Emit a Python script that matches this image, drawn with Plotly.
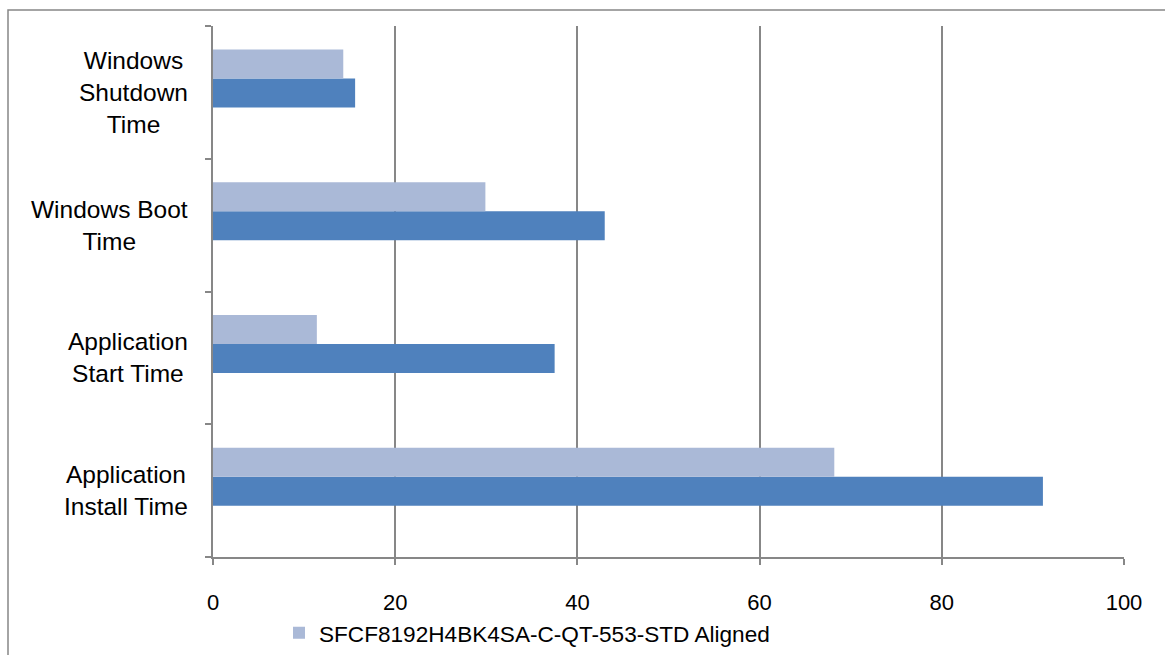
import plotly.graph_objects as go

categories = ["Application Install Time", "Application Start Time", "Windows Boot Time", "Windows Shutdown Time"]
tick_labels = ["Application<br>Install Time", "Application<br>Start Time", "Windows Boot<br>Time", "Windows<br>Shutdown<br>Time"]
series_dark_name = "Baseline"
series_dark = [91.1, 37.5, 43.0, 15.6]
series_light_name = "SFCF8192H4BK4SA-C-QT-553-STD Aligned"
series_light = [68.2, 11.4, 29.9, 14.3]
x_ticks = [0, 20, 40, 60, 80, 100]

W, H = 1165, 655
L, R, T, B = 213, 41, 26, 98
pw, ph = W - L - R, H - T - B
FONT = "Liberation Sans"
GRAY = "#878787"

fig = go.Figure()
fig.add_trace(go.Bar(
    y=categories, x=series_dark, orientation="h", name=series_dark_name,
    marker=dict(color="#4F81BD", line=dict(width=0)),
    width=0.218, offset=-0.113, showlegend=False,
))
fig.add_trace(go.Bar(
    y=categories, x=series_light, orientation="h", name=series_light_name,
    marker=dict(color="#AAB9D7", line=dict(width=0)),
    width=0.218, offset=0.105, showlegend=True,
))

for cat, lab in zip(categories, tick_labels):
    fig.add_annotation(
        x=(190 - L) / pw, xref="paper", y=cat, yref="y", text=lab,
        showarrow=False, xanchor="right", yanchor="middle", align="center",
        font=dict(family=FONT, size=24.5, color="black"),
    )

fig.add_shape(
    type="rect", xref="paper", yref="paper",
    x0=(8 - L) / pw, x1=(W + 60 - L) / pw,
    y0=(H - B - (H + 60)) / ph, y1=(H - B - 10) / ph,
    line=dict(color=GRAY, width=1.5), fillcolor="rgba(0,0,0,0)", layer="below",
)

fig.update_layout(
    width=W, height=H,
    margin=dict(l=L, r=R, t=T, b=B, autoexpand=False),
    paper_bgcolor="white", plot_bgcolor="white",
    barmode="overlay",
    font=dict(family=FONT, size=22, color="black"),
    showlegend=True,
    legend=dict(
        orientation="h", x=(279 - L) / pw, xanchor="left",
        y=(H - B - 633) / ph, yanchor="middle",
        font=dict(family=FONT, size=22.6, color="black"),
        bgcolor="rgba(0,0,0,0)", itemwidth=30,
    ),
    xaxis=dict(
        range=[0, 100], tickvals=x_ticks, ticktext=[str(v) for v in x_ticks],
        showgrid=True, gridcolor=GRAY, gridwidth=1.5,
        showline=True, linecolor=GRAY, linewidth=1.5,
        ticks="outside", ticklen=6, tickcolor=GRAY, tickwidth=1.5,
        zeroline=False, ticklabelstandoff=19,
        tickfont=dict(family=FONT, size=22, color="black"),
        fixedrange=True,
    ),
    yaxis=dict(
        type="category", categoryorder="array", categoryarray=categories,
        range=[-0.5, 3.5], showticklabels=False, showgrid=False,
        showline=True, linecolor=GRAY, linewidth=1.5,
        ticks="outside", ticklen=6, tickcolor=GRAY, tickwidth=1.5,
        tickson="boundaries", zeroline=False, fixedrange=True,
    ),
)

fig.write_html("out.html")
